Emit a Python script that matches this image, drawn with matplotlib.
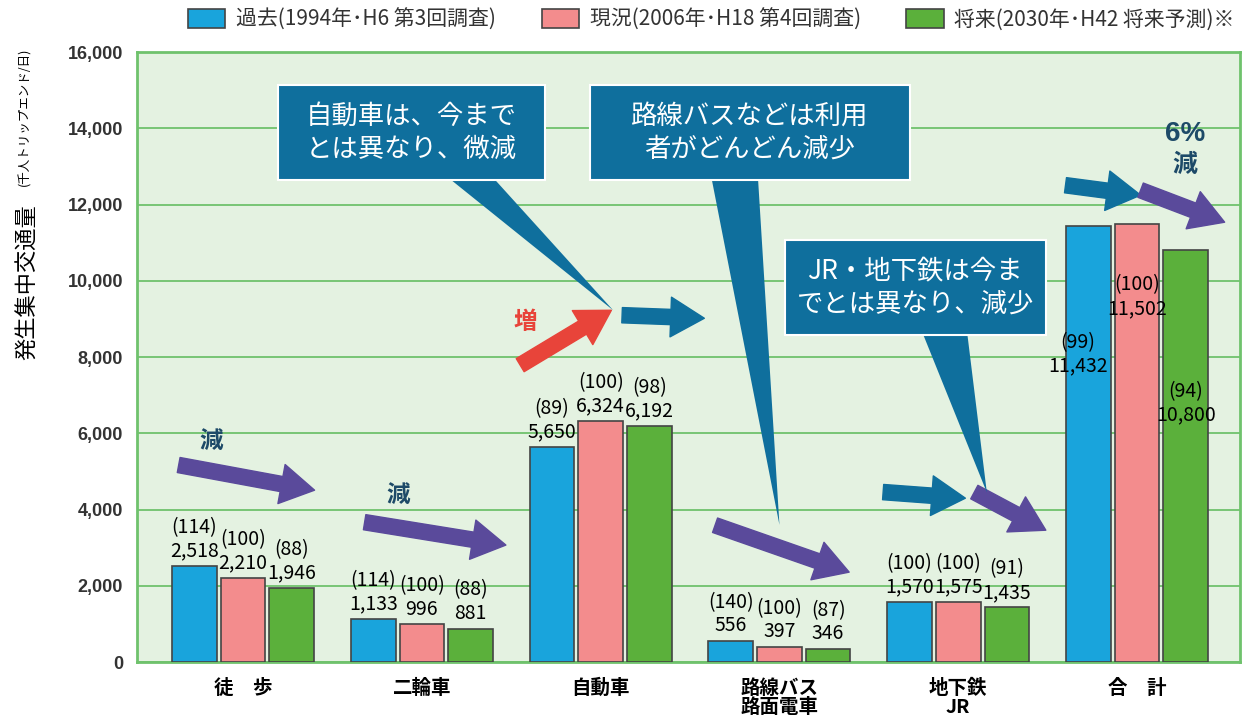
import numpy as np
import matplotlib.pyplot as plt
from matplotlib.patches import Polygon, Rectangle

plt.rcParams['font.family'] = ['Noto Sans CJK JP', 'DejaVu Sans']

categories = ['徒　歩', '二輪車', '自動車', '路線バス\n路面電車', '地下鉄\nJR', '合　計']
past = [2518, 1133, 5650, 556, 1570, 11432]
now = [2210, 996, 6324, 397, 1575, 11502]
future = [1946, 881, 6192, 346, 1435, 10800]
idx_past = [114, 114, 89, 140, 100, 99]
idx_now = [100, 100, 100, 100, 100, 100]
idx_future = [88, 88, 98, 87, 91, 94]
series_names = ['過去(1994年･H6 第3回調査)', '現況(2006年･H18 第4回調査)', '将来(2030年･H42 将来予測)※']
colors = ['#19a4dc', '#f38c8d', '#5bb03b']
yticks = np.arange(0, 16001, 2000)

BOX = '#0f6f9d'
PURPLE = '#5a4a9b'
RED = '#e8443a'
DARK = '#1d4a68'

fig = plt.figure(figsize=(12.48, 7.15), dpi=100)
ax = fig.add_axes([0.1098, 0.074, 0.8838, 0.853])
ax.set_facecolor('#e4f2e1')

x = np.arange(len(categories))
off = 0.272
w = 0.25
bars = []
for i, (vals, c, name) in enumerate(zip([past, now, future], colors, series_names)):
    b = ax.bar(x + (i - 1) * off, vals, w, color=c, edgecolor='#444444', linewidth=1.2,
               label=name, zorder=3)
    bars.append(b)

# value labels above the bars
for i, (vals, idxs) in enumerate(zip([past, now, future], [idx_past, idx_now, idx_future])):
    for j in range(len(categories) - 1):
        ax.text(x[j] + (i - 1) * off, vals[j] + 120, f'({idxs[j]})\n{vals[j]:,}',
                ha='center', va='bottom', fontsize=14, linespacing=1.15, zorder=5)
# total group labels sit inside the bars
tot_y = [7500, 9000, 6200]
tot_dx = [-0.06, 0, 0]
for i, (vals, idxs) in enumerate(zip([past, now, future], [idx_past, idx_now, idx_future])):
    ax.text(x[5] + (i - 1) * off + tot_dx[i], tot_y[i], f'({idxs[5]})\n{vals[5]:,}',
            ha='center', va='bottom', fontsize=14, linespacing=1.15, zorder=5)

ax.set_xlim(-0.593, 5.576)
ax.set_ylim(0, 16000)
ax.set_yticks(yticks)
ax.set_yticklabels([f'{v:,}' for v in yticks], family='Liberation Sans',
                   fontsize=13, fontweight='bold', color='#333333')
ax.set_xticks(x)
ax.set_xticklabels(categories, fontsize=14, fontweight='bold', linespacing=1.0)
ax.tick_params(axis='both', length=0, pad=10)
ax.tick_params(axis='x', pad=12)
ax.grid(axis='y', color='#6fc26c', linewidth=1.3, zorder=1)
for s in ax.spines.values():
    s.set_color('#6fc26c')
    s.set_linewidth(2)

# y label
fig.text(0.022, 0.497, '発生集中交通量', rotation=90, ha='center', va='bottom', fontsize=16)
fig.text(0.020, 0.74, '(千人トリップエンド/日)', rotation=90, ha='center', va='bottom', fontsize=9)


def arrow(x0, y0, x1, y1, color):
    ax.annotate('', xy=(x1, y1), xytext=(x0, y0),
                arrowprops=dict(arrowstyle='simple,head_length=1.1,head_width=1.3,tail_width=0.5',
                                fc=color, ec=color, mutation_scale=22, shrinkA=0, shrinkB=0),
                zorder=6)


arrow(-0.36, 5170, 0.40, 4510, PURPLE)
ax.text(-0.18, 5800, '減', fontsize=17, fontweight='bold', color=DARK, ha='center', va='center')
arrow(0.68, 3670, 1.47, 3070, PURPLE)
ax.text(0.87, 4380, '減', fontsize=17, fontweight='bold', color=DARK, ha='center', va='center')
arrow(1.55, 7790, 2.06, 9230, RED)
ax.text(1.58, 8920, '増', fontsize=17, fontweight='bold', color=RED, ha='center', va='center')
arrow(2.12, 9100, 2.58, 9020, BOX)
arrow(2.64, 3590, 3.39, 2360, PURPLE)
arrow(3.58, 4460, 4.04, 4300, BOX)
arrow(4.09, 4460, 4.49, 3460, PURPLE)
arrow(4.60, 12510, 5.02, 12250, BOX)
arrow(5.02, 12380, 5.49, 11540, PURPLE)
ax.text(5.27, 13850, '6%', fontsize=20, fontweight='bold', color=DARK, ha='center', va='center',
        family='Liberation Sans')
ax.text(5.27, 13050, '減', fontsize=18, fontweight='bold', color=DARK, ha='center', va='center')


def callout(x0, x1, y0, y1, tip, base, text):
    ax.add_patch(Polygon([base[0], base[1], tip], closed=True, fc=BOX, ec='none', zorder=7))
    ax.add_patch(Rectangle((x0, y0), x1 - x0, y1 - y0, fc=BOX, ec='white', lw=1.5, zorder=8))
    ax.text((x0 + x1) / 2, (y0 + y1) / 2, text, color='white', fontsize=19, ha='center',
            va='center', linespacing=1.3, zorder=9)


callout(0.196, 1.689, 12640, 15140, (2.07, 9230), [(1.15, 12700), (1.40, 12700)],
        '自動車は、今まで\nとは異なり、微減')
callout(1.94, 3.73, 12640, 15140, (3.0, 3600), [(2.62, 12700), (2.88, 12700)],
        '路線バスなどは利用\n者がどんどん減少')
callout(3.03, 4.49, 8580, 11070, (4.16, 4450), [(3.80, 8640), (4.05, 8640)],
        'JR・地下鉄は今ま\nでとは異なり、減少')

leg = fig.legend(handles=bars, loc='upper center', bbox_to_anchor=(0.57, 1.014), ncol=3,
                 frameon=False, fontsize=15, handlelength=1.8, handleheight=1.0,
                 columnspacing=2.2, handletextpad=0.5, labelcolor='#333333')

fig.savefig('out.png', dpi=100)
